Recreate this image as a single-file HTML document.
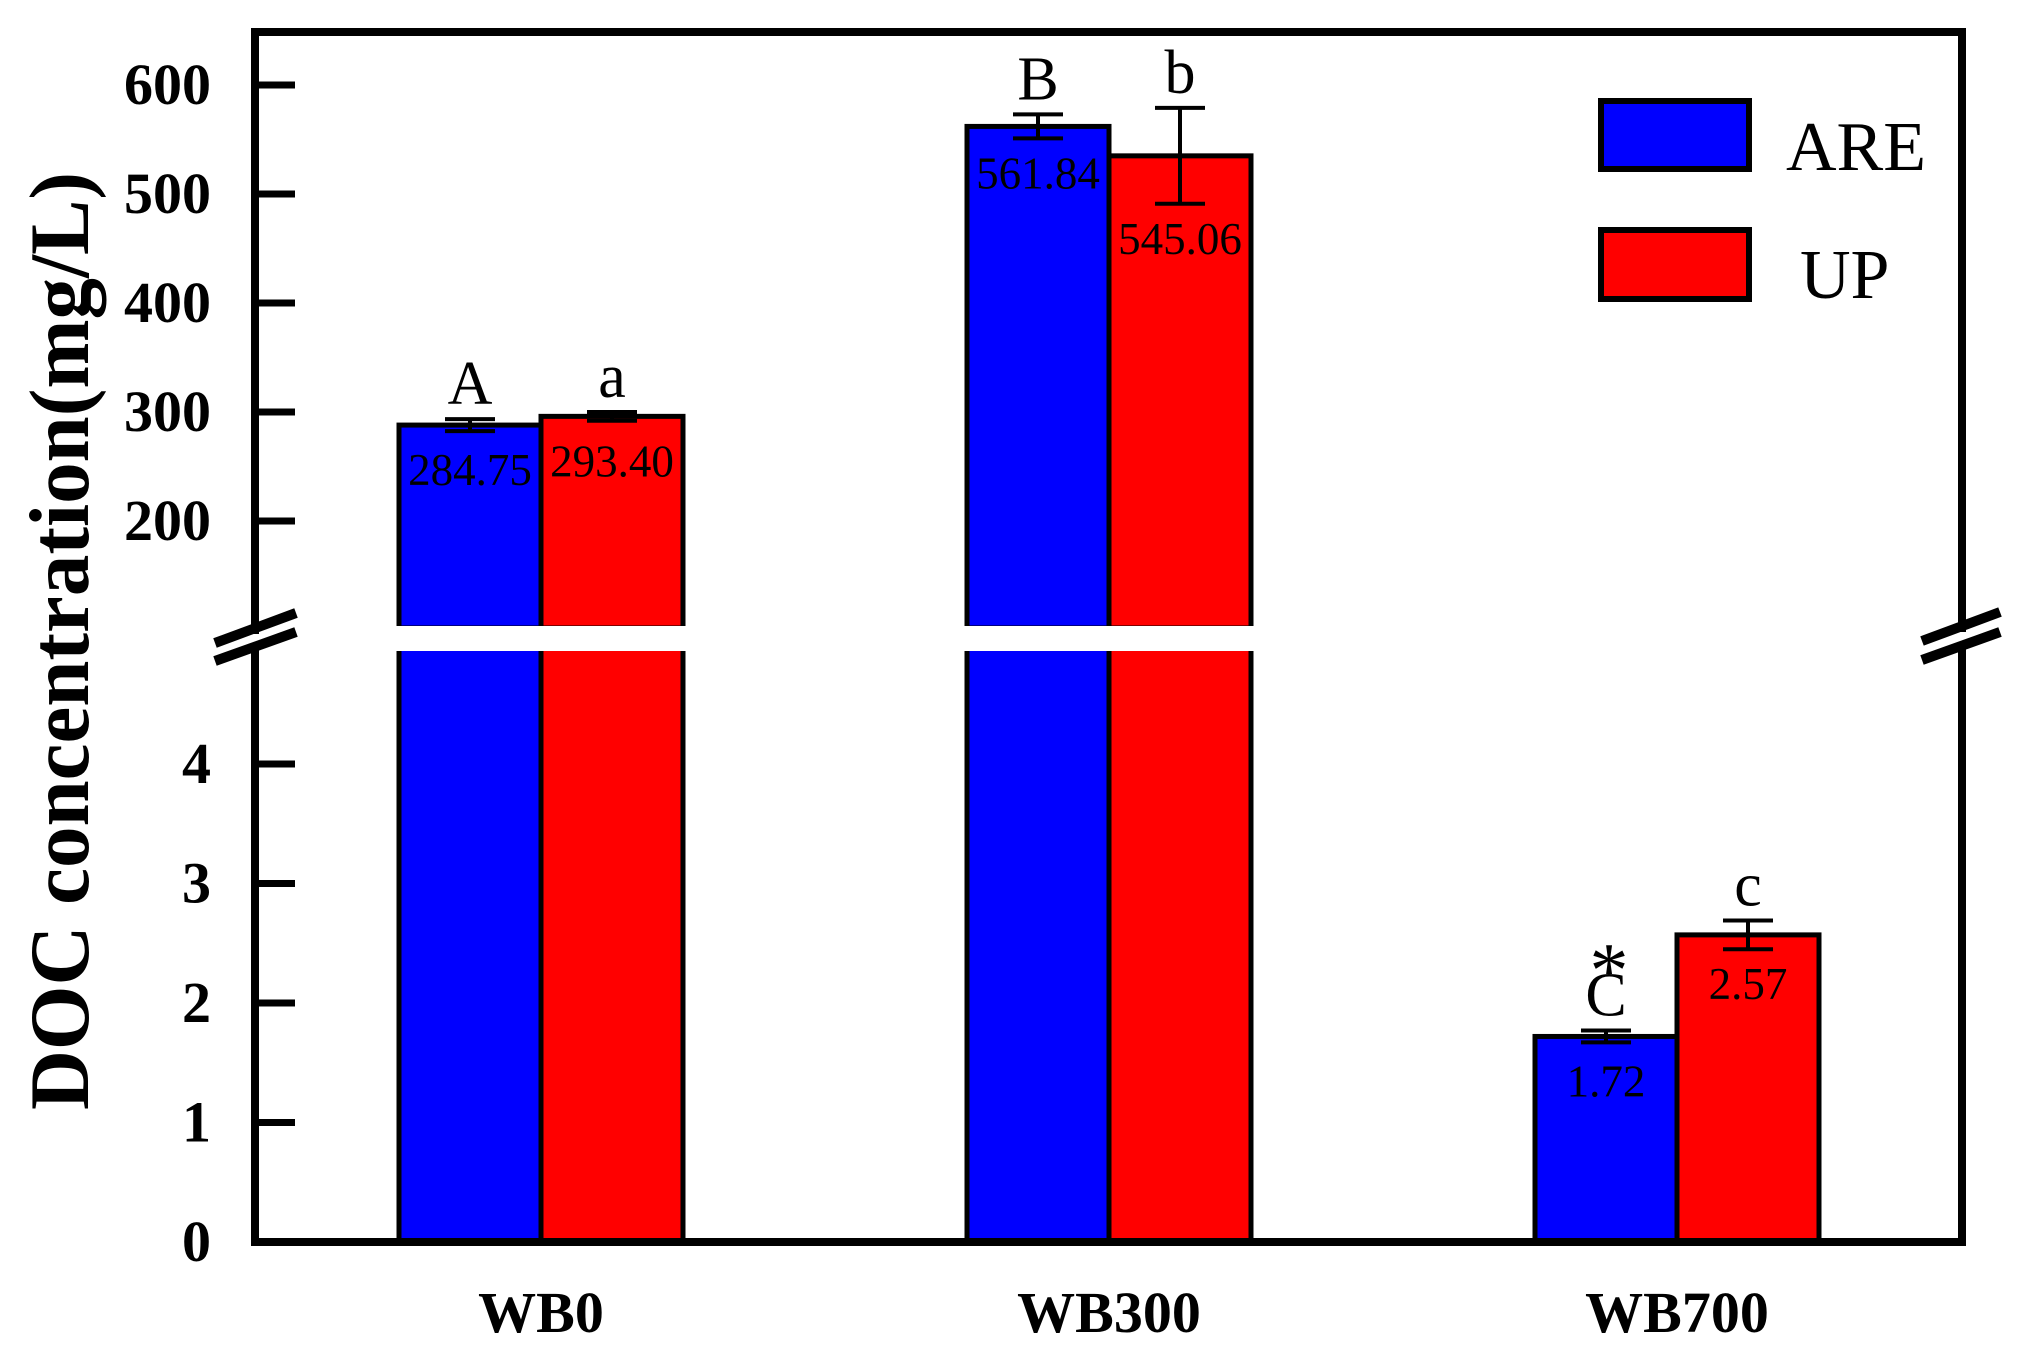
<!DOCTYPE html>
<html><head><meta charset="utf-8"><style>
html,body{margin:0;padding:0;background:#fff}
svg{display:block}
text{font-family:"Liberation Serif",serif}
</style></head><body>
<svg id="chart" width="2030" height="1361" viewBox="0 0 2030 1361" xmlns="http://www.w3.org/2000/svg">
<text transform="translate(88,641) rotate(-90)" text-anchor="middle" font-size="85" font-weight="bold" textLength="938" lengthAdjust="spacingAndGlyphs">DOC concentration(mg/L)</text>
<g id="bars"></g>
<g id="frame"></g>
<g id="ticks"></g>
<g id="legend">
<rect x="1601" y="101" width="148" height="68" fill="#0000ff" stroke="#000" stroke-width="6"/>
<text x="1786" y="170" font-size="70">ARE</text>
<rect x="1601" y="230" width="148" height="69" fill="#ff0000" stroke="#000" stroke-width="6"/>
<text x="1800" y="298" font-size="70">UP</text>
</g>
</svg>
<script>
const categories = ["WB0","WB300","WB700"];
const areHeights = [288, 562, 1.72];
const upHeights = [296, 535, 2.57];
const areErr = [5.5, 11, 0.05];
const upErr = [4, 44, 0.12];
const areLabels = ["284.75","561.84","1.72"];
const upLabels = ["293.40","545.06","2.57"];
const areLetters = ["A","B","C"];
const upLetters = ["a","b","c"];
const upperTicks = [200,300,400,500,600];
const lowerTicks = [0,1,2,3,4];

const NS="http://www.w3.org/2000/svg";
const L=255,R=1962,T=32,B=1242;
const breakTop=628, breakBot=648;
function y(v){ return v>=50 ? 85-(v-600)*1.09 : 1242-v*119.5; }
function xc(i){ return 541+i*568; }
const bw=142;
function mk(tag,attrs,parent){const e=document.createElementNS(NS,tag);for(const k in attrs)e.setAttribute(k,attrs[k]);parent.appendChild(e);return e;}
const bars=document.getElementById('bars');
const frame=document.getElementById('frame');
const ticks=document.getElementById('ticks');

function drawBar(i,h,err,lab,letter,fill,left,nm){
  const x0=left?xc(i)-bw:xc(i);
  const top=y(h);
  const g=mk('g',{},bars);
  
  
  const big=h>=50;
  if(big){
    const r1=mk('rect',{x:x0,y:top,width:bw,height:breakTop-top,fill:fill,stroke:'#000','stroke-width':5},g);
    
    
    const r2=mk('rect',{x:x0,y:breakBot,width:bw,height:B-breakBot,fill:fill,stroke:'#000','stroke-width':5},g);
    
    
    mk('rect',{x:x0-4,y:breakTop,width:bw+8,height:breakBot-breakTop,fill:'#fff'},g);
    mk('rect',{x:x0-4,y:breakBot,width:bw+8,height:3,fill:'#fff'},g);
    mk('rect',{x:x0-4,y:breakTop-2,width:bw+8,height:2,fill:'#fff'},g);
  } else {
    const r=mk('rect',{x:x0,y:top,width:bw,height:B-top,fill:fill,stroke:'#000','stroke-width':5},g);
    
    
  }
  const cx=x0+bw/2;
  const eT=y(h+err), eB=y(h-err);
  const eg=mk('g',{stroke:'#000','stroke-width':4},g);
  
  
  mk('line',{x1:cx,y1:eT,x2:cx,y2:eB},eg);
  mk('line',{x1:cx-25,y1:eT,x2:cx+25,y2:eT},eg);
  mk('line',{x1:cx-25,y1:eB,x2:cx+25,y2:eB},eg);
  const t=mk('text',{x:cx,y:Math.max(top+60,eB+50),'text-anchor':'middle','font-size':45},g);
  t.textContent=lab;
  
  
  const lt=mk('text',{x:cx,y:eT-15,'text-anchor':'middle','font-size':62},g);
  lt.textContent=letter;
  
  
  if(letter==="C"){
    const s=mk('text',{x:cx+3,y:eT-34,'text-anchor':'middle','font-size':78},g);
    s.textContent="*";
    
    
  }
}
for(let i=0;i<categories.length;i++){
  drawBar(i,areHeights[i],areErr[i],areLabels[i],areLetters[i],'#0000ff',true,'bar-are');
  drawBar(i,upHeights[i],upErr[i],upLabels[i],upLetters[i],'#ff0000',false,'bar-up');
  const xl=mk('text',{x:xc(i),y:1332,'text-anchor':'middle','font-size':58,'font-weight':'bold'},ticks);
  xl.textContent=categories[i];
  
  
}
const fg=mk('g',{stroke:'#000','stroke-width':8,fill:'none','stroke-linecap':'square'},frame);


mk('line',{x1:L,y1:T,x2:R,y2:T},fg);
mk('line',{x1:L,y1:B,x2:R,y2:B},fg);
mk('line',{x1:L,y1:T,x2:L,y2:630},fg);
mk('line',{x1:L,y1:648,x2:L,y2:B},fg);
mk('line',{x1:R,y1:T,x2:R,y2:628},fg);
mk('line',{x1:R,y1:650,x2:R,y2:B},fg);
const bg=mk('g',{stroke:'#000','stroke-width':10},frame);


mk('line',{x1:215,y1:643,x2:296,y2:613},bg);
mk('line',{x1:215,y1:661,x2:296,y2:632},bg);
mk('line',{x1:1922,y1:641,x2:2000,y2:612},bg);
mk('line',{x1:1922,y1:660,x2:2000,y2:632},bg);
const allTicks=upperTicks.concat(lowerTicks);
for(const v of allTicks){
  const yy=y(v);
  if(v!==0){
    const tl=mk('line',{x1:L,y1:yy,x2:295,y2:yy,stroke:'#000','stroke-width':7},ticks);
    
    
  }
  const tt=mk('text',{x:211,y:yy+19,'text-anchor':'end','font-size':58,'font-weight':'bold'},ticks);
  tt.textContent=String(v);
  
  
}
</script>
</body></html>
